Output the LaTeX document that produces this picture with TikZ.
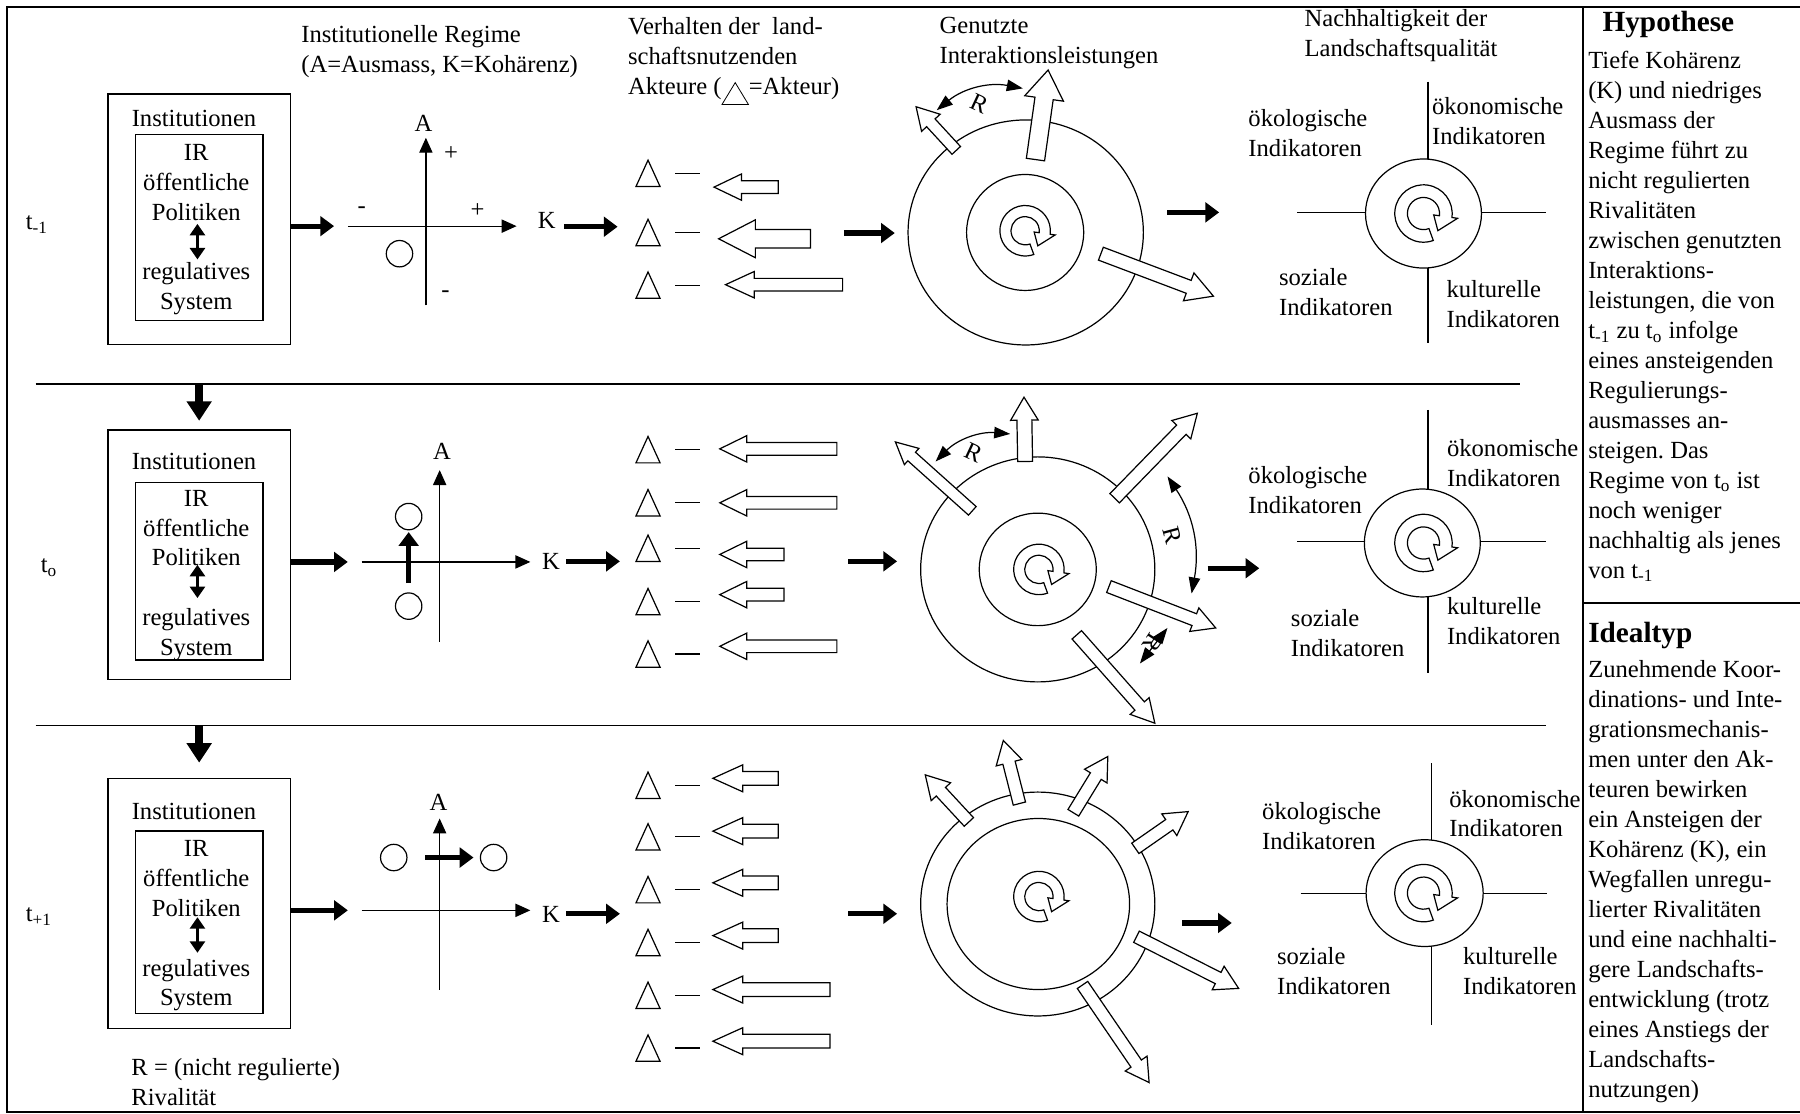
\documentclass[tikz,border=0pt]{standalone}
\usepackage{fontspec}
\setmainfont{Liberation Serif}
\usetikzlibrary{arrows.meta,positioning,calc,shapes.geometric}
\frenchspacing

% hollow block arrow: tail, tip, half shaft, half head, head length
\newcommand{\hollowarrow}[5]{%
  \coordinate (ha) at (#1);
  \coordinate (hb) at (#2);
  \coordinate (hh) at ($(hb)!#5!(ha)$);
  \draw[fill=white] ($(ha)!#3!90:(hb)$) -- ($(hh)!#3!-90:(ha)$)
    -- ($(hh)!#4!-90:(ha)$) -- (hb) -- ($(hh)!#4!90:(ha)$)
    -- ($(hh)!#3!90:(ha)$) -- ($(ha)!#3!-90:(hb)$) -- cycle;}

\tikzset{
  actor/.pic={\draw (-10.5,-11.5) -- (0,11.5) -- (10.5,-11.5) -- cycle;
              \draw (23.5,0) -- (45.5,0);},
  cyc/.pic={\draw[fill=white] (-8:1) arc[start angle=-8,end angle=290,radius=1]
      -- (290:0.56) arc[start angle=290,end angle=-8,radius=0.56]
      -- (-8:0.36) -- (-50:0.78) -- (-8:1.2) -- cycle;}
}

\begin{document}
\begin{tikzpicture}[x=0.2mm, y=0.2mm, line width=0.6pt,
  font=\fontsize{12.2}{14.85}\selectfont,
  txt/.style={inner sep=0pt, anchor=base west, align=left},
  ctr/.style={inner sep=0pt, anchor=base, align=center},
  pm/.style={inner sep=0pt},
  hdr/.style={inner sep=0pt, anchor=base west, font=\fontsize{14.5}{17}\selectfont\bfseries},
  obox/.style={draw, line width=0.7pt, minimum width=31.8mm, inner sep=0pt},
  ibox/.style={draw, line width=0.7pt, minimum width=22.2mm, inner sep=0pt},
  ring/.style={draw, ellipse, inner sep=0pt},
  indc/.style={draw, ellipse, fill=white, inner sep=0pt},
  regdot/.style={draw, circle, minimum size=4.6mm, inner sep=0pt},
  fat/.style={line width=0.9mm, -{Triangle[length=2.4mm,width=3.4mm]}},
  downarr/.style={line width=1.3mm, -{Triangle[length=3.4mm,width=4.2mm]}},
  axisarr/.style={-{Triangle[length=2.6mm,width=2.3mm]}},
  dblarr/.style={line width=0.5mm, {Triangle[length=2mm,width=2.6mm]}-{Triangle[length=2mm,width=2.6mm]}},
  rival/.style={{Triangle[length=2.8mm,width=2mm]}-{Triangle[length=2.8mm,width=2mm]}}
]
\useasboundingbox (0,0) rectangle (1568,-970);
% Frame (multi-line texts are placed by the baseline of their last line)
\draw[line width=1pt] (5.7,-6.4) rectangle (1575,-968.4);
\draw[line width=1pt] (1379,-6.4) -- (1379,-968.4);
\draw[line width=1pt] (1379,-525) -- (1575,-525);

% Headers
\node[txt] (hdrreg) at (262,-63) {Institutionelle Regime\\(A=Ausmass, K=Kohärenz)};
\node[txt] (hdract) at (546.7,-82) {Verhalten der\ \ land-\\schaftsnutzenden\\Akteure (\tikz[baseline=1.8mm]\draw (0,0) -- (2.3mm,3.8mm) -- (4.6mm,0) -- cycle;=Akteur)};
\node[txt] (hdruse) at (818,-55) {Genutzte\\Interaktionsleistungen};
\node[txt] (hdrsus) at (1136,-49.5) {Nachhaltigkeit der\\Landschaftsqualität};

% Right column
\node[hdr] (hyp) at (1395.5,-27.6) {Hypothese};
\node[txt] (hyptext) at (1383,-503.7) {Tiefe Kohärenz\\(K) und niedriges\\Ausmass der\\Regime führt zu\\nicht regulierten\\Rivalitäten\\zwischen genutzten\\Interaktions-\\leistungen, die von\\t\textsubscript{-1} zu t\textsubscript{o} infolge\\eines ansteigenden\\Regulierungs-\\ausmasses an-\\steigen. Das\\Regime von t\textsubscript{o} ist\\noch weniger\\nachhaltig als jenes\\von t\textsubscript{-1}};
\node[hdr] (ideal) at (1383,-560) {Idealtyp};
\node[txt] (idealtext) at (1383,-955.8) {Zunehmende Koor-\\dinations- und Inte-\\grationsmechanis-\\men unter den Ak-\\teuren bewirken\\ein Ansteigen der\\Kohärenz (K), ein\\Wegfallen unregu-\\lierter Rivalitäten\\und eine nachhalti-\\gere Landschafts-\\entwicklung (trotz\\eines Anstiegs der\\Landschafts-\\nutzungen)};

% Row t-1
\node[txt] (t1) at (22,-200) {t\textsubscript{-1}};
\node[obox, minimum height=43.6mm] (box1) at (173.5,-191) {};
\node[ibox, minimum height=32.4mm] (core1) at (173.5,-198) {};
\node[ctr] (inst1) at (169,-110.5) {Institutionen};
\node[ctr] (pol1) at (171,-270) {IR\\öffentliche\\Politiken\\[\baselineskip]regulatives\\System};
\draw[dblarr] (172,-195) -- (172,-226);
\coordinate (ax1l) at (303,-197);
\draw[fat, shorten >=2.4mm] (box1.east |- ax1l) -- (ax1l);
\draw[axisarr] (ax1l) -- (450,-197);
\draw[axisarr] (371,-266) -- (371,-120);
\node[ctr] (A1) at (369,-114.7) {A};
\node[pm] (p1a) at (393,-134) {+};
\node[pm] (m1a) at (315,-183) {-};
\node[pm] (p1b) at (416,-183) {+};
\node[pm] (m1b) at (388,-256) {-};
\node[regdot] (r1) at (348,-221) {};
\node[txt] (K1) at (468,-199) {K};
\coordinate (act1) at (538,-197.5);
\draw[fat, shorten <=1.4mm] (K1.east |- act1) -- (act1);
\foreach \yy in {151,202.5,248.4} \pic at (564.5,-\yy) {actor};
\hollowarrow{678,-163}{622,-163}{1.1mm}{2.3mm}{4.8mm}
\hollowarrow{706,-208}{626,-208}{1.6mm}{3.3mm}{6.4mm}
\hollowarrow{734,-248}{632,-248}{1.1mm}{2.3mm}{5mm}
\coordinate (pick1) at (735,-203);
\node[ring, minimum width=41mm, minimum height=39.2mm] (ring1) at (893.5,-202.5) {};
\node[ring, minimum width=20.4mm, minimum height=20.2mm] (kern1) at (893,-202.5) {};
\pic[scale=22] at (893,-201) {cyc};
\draw[fat, shorten >=2.2mm] (pick1) -- (ring1.west |- pick1);
\hollowarrow{833,-131}{798,-93}{1mm}{2.2mm}{3.8mm}
\hollowarrow{902,-139}{913,-61}{1.6mm}{3.4mm}{5mm}
\hollowarrow{959,-221}{1057,-258}{1.2mm}{2.6mm}{4.6mm}
\draw[rival] (816,-96) to[bend left=25] (891,-77);
\node[pm, rotate=-25] (R1) at (853,-90) {R};
\coordinate (o1s) at (1017,-185);
\coordinate (o1e) at (1062,-185);
\draw[fat] (o1s) -- (o1e);
\draw (1244,-71) -- (1244,-299);
\draw (1130,-185) -- (1347,-185);
\node[indc, minimum width=20.2mm, minimum height=19mm] (ind1) at (1240,-186) {};
\pic[scale=25] at (ind1) {cyc};
\node[txt] (eco1) at (1087,-136.6) {ökologische\\Indikatoren};
\node[txt] (oek1) at (1247,-125.5) {ökonomische\\Indikatoren};
\node[txt] (soz1) at (1113.7,-274.5) {soziale\\Indikatoren};
\node[txt] (kul1) at (1259.6,-285.5) {kulturelle\\Indikatoren};
\draw[line width=0.8pt] (31,-334.5) -- (1324,-334.5);

% Row t_o
\node[txt] (t2) at (35,-499) {t\textsubscript{o}};
\node[obox, minimum height=43.5mm] (box2) at (173.5,-483.4) {};
\node[ibox, minimum height=30.9mm] (core2) at (173.5,-497.8) {};
\coordinate (d1) at (173.5,-334.5);
\draw[downarr, shorten >=1.5mm] (d1) -- (box2.north);
\node[ctr] (inst2) at (169,-408.7) {Institutionen};
\node[ctr] (pol2) at (171,-571.3) {IR\\öffentliche\\Politiken\\[\baselineskip]regulatives\\System};
\draw[dblarr] (172,-492) -- (172,-521);
\coordinate (ax2l) at (315,-489.5);
\draw[fat, shorten >=2.4mm] (box2.east |- ax2l) -- (ax2l);
\draw[axisarr] (ax2l) -- (462,-489.5);
\draw[axisarr] (383,-559) -- (383,-409.5);
\node[ctr] (A2) at (385,-400.7) {A};
\node[regdot] (r2a) at (356,-528) {};
\node[regdot] (r2b) at (356,-450) {};
\draw[fat, shorten <=1.6mm, shorten >=0.3mm] (r2a.north) -- (r2b.south);
\node[txt] (K2) at (471.7,-496.5) {K};
\coordinate (act2) at (540,-489);
\draw[fat, shorten <=1mm] (K2.east |- act2) -- (act2);
\foreach \yy in {391.7,437.9,477.6,524.1,569.7} \pic at (564.5,-\yy) {actor};
\foreach \tl/\yy in {729/391,729/438,683/483,683/518,729/563}
  \hollowarrow{\tl,-\yy}{627,-\yy}{1.1mm}{2.3mm}{4.7mm};
\coordinate (pick2) at (739,-489);
\node[ring, minimum width=40.8mm, minimum height=39.2mm] (ring2) at (904,-496) {};
\node[ring, minimum width=20.4mm, minimum height=19.6mm] (kern2) at (904,-496) {};
\pic[scale=22] at (905,-496) {cyc};
\draw[fat, shorten >=4mm] (pick2) -- (ring2.west |- pick2);
\hollowarrow{847,-445}{780,-385}{1mm}{1.9mm}{3.8mm}
\hollowarrow{893,-402}{892,-346}{1.3mm}{2.4mm}{4mm}
\hollowarrow{971,-434}{1043,-360}{1.15mm}{2.3mm}{4mm}
\hollowarrow{966,-511}{1059,-547}{1.1mm}{2.2mm}{4mm}
\hollowarrow{938,-553}{1006,-630}{1.1mm}{2.2mm}{4mm}
\draw[rival] (815,-402) to[bend left=25] (880,-378);
\node[pm, rotate=-25] (R2a) at (848,-394) {R};
\draw[rival] (1017,-415) to[bend left=22] (1038,-517);
\node[pm, rotate=-75] (R2b) at (1021,-466) {R};
\draw[rival] (1017,-547) -- (993,-578);
\node[pm, rotate=-123] (R2c) at (1004,-560) {R};
\coordinate (o2s) at (1052,-495);
\coordinate (o2e) at (1097,-495);
\draw[fat] (o2s) -- (o2e);
\draw (1244,-357) -- (1244,-586);
\draw (1130,-472) -- (1347,-472);
\node[indc, minimum width=20.2mm, minimum height=18.8mm] (ind2) at (1239,-473) {};
\pic[scale=25] at (1240,-473) {cyc};
\node[txt] (eco2) at (1087,-447.1) {ökologische\\Indikatoren};
\node[txt] (oek2) at (1260,-423.5) {ökonomische\\Indikatoren};
\node[txt] (soz2) at (1124,-572) {soziale\\Indikatoren};
\node[txt] (kul2) at (1260,-561.8) {kulturelle\\Indikatoren};
\draw[line width=0.8pt] (31,-632) -- (1347,-632);

% Row t+1
\node[txt] (t3) at (22,-803) {t\textsubscript{+1}};
\node[obox, minimum height=43.6mm] (box3) at (173.5,-787) {};
\node[ibox, minimum height=31.8mm] (core3) at (173.5,-803.5) {};
\coordinate (d2) at (173.5,-632);
\draw[downarr, shorten >=2.6mm] (d2) -- (box3.north);
\node[ctr] (inst3) at (169,-713.6) {Institutionen};
\node[ctr] (pol3) at (171,-876.3) {IR\\öffentliche\\Politiken\\[\baselineskip]regulatives\\System};
\draw[dblarr] (172,-799) -- (172,-830);
\coordinate (ax3l) at (315,-793);
\draw[fat, shorten >=2.4mm] (box3.east |- ax3l) -- (ax3l);
\draw[axisarr] (ax3l) -- (462,-793);
\draw[axisarr] (383,-862) -- (383,-713);
\node[ctr] (A3) at (382,-705.6) {A};
\node[regdot] (r3a) at (343,-747) {};
\node[regdot] (r3b) at (430,-747) {};
\draw[fat, shorten <=3.1mm, shorten >=1.1mm] (r3a.east) -- (r3b.west);
\node[txt] (K3) at (471.7,-803.5) {K};
\coordinate (act3) at (540,-796);
\draw[fat, shorten <=1mm] (K3.east |- act3) -- (act3);
\foreach \yy in {684,729,775,821,867,913} \pic at (564.5,-\yy) {actor};
\foreach \tl/\yy in {678/678,678/724,678/769,678/815,723/862,723/907}
  \hollowarrow{\tl,-\yy}{621,-\yy}{1.2mm}{2.35mm}{5.2mm};
\coordinate (pick3) at (739,-796);
\node[ring, minimum width=40.8mm, minimum height=39mm] (ring3) at (904,-787.5) {};
\node[ring, minimum width=31.8mm, minimum height=29.8mm] (kern3) at (904.5,-787.5) {};
\pic[scale=22] at (905,-781) {cyc};
\draw[fat, shorten >=4mm] (pick3) -- (ring3.west |- pick3);
\hollowarrow{844,-716}{806,-675}{1.1mm}{2.3mm}{4mm}
\hollowarrow{888,-700}{874,-645}{1.1mm}{2.3mm}{4mm}
\hollowarrow{935,-708}{965,-659}{1.1mm}{2.3mm}{4mm}
\hollowarrow{989,-739}{1035,-707}{1.1mm}{2.3mm}{4mm}
\hollowarrow{990,-816}{1079,-861}{1.1mm}{2.3mm}{4mm}
\hollowarrow{943,-858}{1001,-943}{1.1mm}{2.3mm}{4mm}
\coordinate (o3s) at (1030,-804);
\coordinate (o3e) at (1073,-804);
\draw[fat] (o3s) -- (o3e);
\draw (1247,-665) -- (1247,-893);
\draw (1133,-778) -- (1348,-778);
\node[indc, minimum width=20.4mm, minimum height=18.6mm] (ind3) at (1241,-778) {};
\pic[scale=25] at (1240,-778) {cyc};
\node[txt] (eco3) at (1099,-739.7) {ökologische\\Indikatoren};
\node[txt] (oek3) at (1262,-729.1) {ökonomische\\Indikatoren};
\node[txt] (soz3) at (1112,-866.7) {soziale\\Indikatoren};
\node[txt] (kul3) at (1274,-866.7) {kulturelle\\Indikatoren};
\node[txt] (legend) at (114,-962.6) {R = (nicht regulierte)\\Rivalität};
\end{tikzpicture}
\end{document}
